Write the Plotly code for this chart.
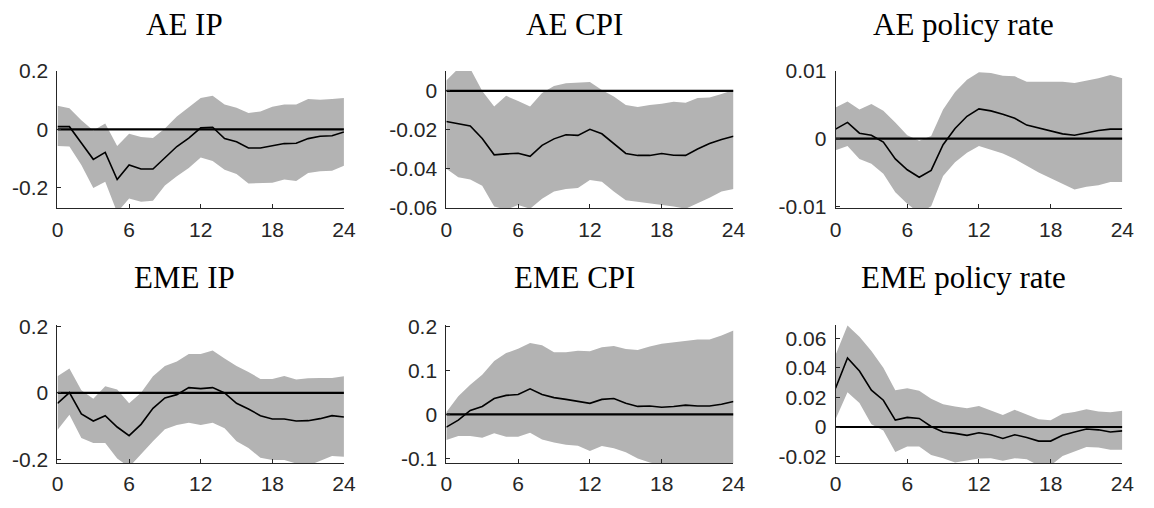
import plotly.graph_objects as go

# Impulse responses over a 24-month horizon: median and error bands
horizon = list(range(25))

ae_ip_mid = [0.009, 0.009, -0.047, -0.103, -0.079, -0.172, -0.122, -0.136, -0.136, -0.098,
             -0.059, -0.030, 0.005, 0.007, -0.032, -0.043, -0.064, -0.064, -0.057, -0.049,
             -0.048, -0.032, -0.024, -0.022, -0.009]
ae_ip_hi = [0.081, 0.072, 0.031, -0.004, 0.020, -0.057, -0.015, -0.026, -0.030, 0.003,
            0.044, 0.074, 0.107, 0.115, 0.085, 0.074, 0.056, 0.061, 0.077, 0.085,
            0.085, 0.104, 0.101, 0.104, 0.107]
ae_ip_lo = [-0.057, -0.059, -0.122, -0.201, -0.180, -0.285, -0.237, -0.248, -0.245, -0.193,
            -0.161, -0.133, -0.097, -0.109, -0.139, -0.153, -0.186, -0.185, -0.183, -0.172,
            -0.177, -0.150, -0.144, -0.142, -0.125]

ae_cpi_mid = [-0.0157, -0.0167, -0.0180, -0.0244, -0.0328, -0.0323, -0.0320, -0.0336, -0.0279, -0.0246,
              -0.0225, -0.0228, -0.0197, -0.0220, -0.0270, -0.0321, -0.0331, -0.0331, -0.0321, -0.0330,
              -0.0331, -0.0298, -0.0270, -0.0249, -0.0233]
ae_cpi_hi = [0.0054, 0.0115, 0.0115, 0.0000, -0.0080, -0.0025, -0.0052, -0.0080, -0.0011, 0.0025,
             0.0039, 0.0043, 0.0046, 0.0005, -0.0028, -0.0072, -0.0082, -0.0072, -0.0066, -0.0056,
             -0.0061, -0.0036, -0.0033, -0.0016, 0.0005]
ae_cpi_lo = [-0.0400, -0.0443, -0.0454, -0.0487, -0.0593, -0.0610, -0.0585, -0.0605, -0.0553, -0.0516,
             -0.0503, -0.0498, -0.0457, -0.0466, -0.0516, -0.0561, -0.0569, -0.0574, -0.0585, -0.0593,
             -0.0605, -0.0577, -0.0548, -0.0516, -0.0503]

ae_rate_mid = [0.0014, 0.0024, 0.0008, 0.0005, -0.0005, -0.0030, -0.0046, -0.0057, -0.0047, -0.0009,
               0.0015, 0.0033, 0.0044, 0.0041, 0.0036, 0.0030, 0.0020, 0.0016, 0.0011, 0.0007,
               0.0005, 0.0009, 0.0012, 0.0014, 0.0014]
ae_rate_hi = [0.0046, 0.0055, 0.0043, 0.0051, 0.0041, 0.0024, 0.0005, -0.0003, 0.0004, 0.0043,
              0.0069, 0.0087, 0.0098, 0.0097, 0.0093, 0.0092, 0.0084, 0.0084, 0.0084, 0.0084,
              0.0082, 0.0085, 0.0089, 0.0094, 0.0089]
ae_rate_lo = [-0.0017, -0.0011, -0.0030, -0.0037, -0.0052, -0.0079, -0.0096, -0.0110, -0.0100, -0.0055,
              -0.0035, -0.0021, -0.0011, -0.0016, -0.0022, -0.0030, -0.0040, -0.0050, -0.0059, -0.0067,
              -0.0075, -0.0071, -0.0069, -0.0064, -0.0064]

eme_ip_mid = [-0.031, 0.001, -0.063, -0.084, -0.068, -0.102, -0.128, -0.094, -0.046, -0.015,
              -0.005, 0.016, 0.013, 0.016, 0.000, -0.031, -0.048, -0.068, -0.078, -0.078,
              -0.084, -0.083, -0.077, -0.068, -0.072]
eme_ip_hi = [0.050, 0.073, 0.008, -0.017, 0.020, 0.010, -0.031, 0.001, 0.050, 0.081,
             0.094, 0.117, 0.117, 0.127, 0.103, 0.081, 0.063, 0.042, 0.042, 0.051,
             0.040, 0.044, 0.045, 0.045, 0.050]
eme_ip_lo = [-0.111, -0.065, -0.135, -0.150, -0.150, -0.196, -0.222, -0.182, -0.145, -0.109,
             -0.096, -0.089, -0.096, -0.089, -0.106, -0.145, -0.165, -0.194, -0.201, -0.201,
             -0.211, -0.218, -0.203, -0.189, -0.191]

eme_cpi_mid = [-0.029, -0.013, 0.009, 0.018, 0.036, 0.043, 0.045, 0.058, 0.045, 0.038,
               0.034, 0.029, 0.025, 0.034, 0.036, 0.025, 0.018, 0.019, 0.016, 0.018,
               0.021, 0.019, 0.019, 0.023, 0.029]
eme_cpi_hi = [0.005, 0.041, 0.067, 0.090, 0.121, 0.139, 0.149, 0.162, 0.157, 0.141,
              0.141, 0.144, 0.143, 0.152, 0.155, 0.148, 0.146, 0.154, 0.160, 0.163,
              0.166, 0.170, 0.170, 0.179, 0.190]
eme_cpi_lo = [-0.058, -0.049, -0.049, -0.053, -0.043, -0.051, -0.051, -0.042, -0.057, -0.064,
              -0.069, -0.071, -0.083, -0.072, -0.077, -0.086, -0.100, -0.109, -0.115, -0.113,
              -0.113, -0.111, -0.115, -0.115, -0.115]

eme_rate_mid = [0.0262, 0.0467, 0.0378, 0.0249, 0.0181, 0.0047, 0.0065, 0.0058, 0.0004, -0.0034,
                -0.0043, -0.0056, -0.0039, -0.0052, -0.0077, -0.0052, -0.0071, -0.0095, -0.0095, -0.0056,
                -0.0034, -0.0013, -0.0019, -0.0034, -0.0026]
eme_rate_hi = [0.0486, 0.0686, 0.0610, 0.0514, 0.0400, 0.0249, 0.0262, 0.0245, 0.0191, 0.0153,
               0.0138, 0.0127, 0.0142, 0.0110, 0.0082, 0.0116, 0.0084, 0.0052, 0.0045, 0.0090,
               0.0101, 0.0120, 0.0105, 0.0099, 0.0110]
eme_rate_lo = [0.0052, 0.0234, 0.0163, 0.0019, -0.0024, -0.0168, -0.0131, -0.0131, -0.0189, -0.0211,
               -0.0239, -0.0228, -0.0213, -0.0211, -0.0228, -0.0211, -0.0217, -0.0260, -0.0260, -0.0196,
               -0.0163, -0.0135, -0.0138, -0.0153, -0.0153]

titles = ["AE IP", "AE CPI", "AE policy rate", "EME IP", "EME CPI", "EME policy rate"]
mids = [ae_ip_mid, ae_cpi_mid, ae_rate_mid, eme_ip_mid, eme_cpi_mid, eme_rate_mid]
his = [ae_ip_hi, ae_cpi_hi, ae_rate_hi, eme_ip_hi, eme_cpi_hi, eme_rate_hi]
los = [ae_ip_lo, ae_cpi_lo, ae_rate_lo, eme_ip_lo, eme_cpi_lo, eme_rate_lo]
y_ticks = [[-0.2, 0, 0.2], [-0.06, -0.04, -0.02, 0], [-0.01, 0, 0.01],
           [-0.2, 0, 0.2], [-0.1, 0, 0.1, 0.2], [-0.02, 0, 0.02, 0.04, 0.06]]
y_ranges = [[-0.271, 0.2], [-0.0603, 0.0103], [-0.0103, 0.01],
            [-0.2107, 0.204], [-0.111, 0.203], [-0.0245, 0.069]]
x_ticks = [0, 6, 12, 18, 24]

W, H = 1154, 508
col_px = [(52.3, 343.3), (447.3, 739.0), (842.7, 1134.0)]
row_px = [(61.7, 205.7), (327.7, 472.7)]
title_px_y = [13, 278]

band_color = "#b3b3b3"
axis_color = "#262626"

fig = go.Figure()
annotations = []
layout_axes = {}

for i in range(6):
    r, c = divmod(i, 3)
    n = i + 1
    xa = "x" if n == 1 else f"x{n}"
    ya = "y" if n == 1 else f"y{n}"

    # shaded error band
    fig.add_trace(go.Scatter(
        x=horizon + horizon[::-1], y=his[i] + los[i][::-1],
        fill="toself", fillcolor=band_color, line=dict(width=0),
        mode="lines", hoverinfo="skip", showlegend=False,
        xaxis=xa, yaxis=ya))
    # zero reference line
    fig.add_trace(go.Scatter(
        x=[horizon[0], horizon[-1]], y=[0, 0], mode="lines",
        line=dict(color="black", width=2.2), showlegend=False,
        xaxis=xa, yaxis=ya))
    # median response
    fig.add_trace(go.Scatter(
        x=horizon, y=mids[i], mode="lines",
        line=dict(color="black", width=1.6), showlegend=False,
        xaxis=xa, yaxis=ya))

    x0, x1 = col_px[c]
    ytop, ybot = row_px[r]
    xd = [x0 / W, x1 / W]
    yd = [1 - ybot / H, 1 - ytop / H]

    tick_font = dict(family="Liberation Sans, Arial, sans-serif", size=21, color=axis_color)
    layout_axes["xaxis" if n == 1 else f"xaxis{n}"] = dict(
        domain=xd, range=[0, 24], anchor=ya, tickvals=x_ticks,
        ticktext=[str(v) for v in x_ticks], ticks="inside", ticklen=4,
        tickcolor=axis_color, showline=True, linecolor=axis_color, linewidth=1,
        showgrid=False, zeroline=False, tickfont=tick_font, ticklabelstandoff=2)
    layout_axes["yaxis" if n == 1 else f"yaxis{n}"] = dict(
        domain=yd, range=y_ranges[i], anchor=xa, tickvals=y_ticks[i],
        ticktext=[f"{v:g}" for v in y_ticks[i]], ticks="inside", ticklen=4,
        tickcolor=axis_color, showline=True, linecolor=axis_color, linewidth=1,
        showgrid=False, zeroline=False, tickfont=tick_font, ticklabelstandoff=4)

    annotations.append(dict(
        text=titles[i], xref="paper", yref="paper",
        x=((x0 + x1) / 2 - 16) / W, y=1 - title_px_y[r] / H,
        xanchor="center", yanchor="middle", showarrow=False,
        font=dict(family="Liberation Serif, Times New Roman, serif", size=31, color="black")))

fig.update_layout(
    width=W, height=H, margin=dict(l=0, r=0, t=0, b=0),
    paper_bgcolor="white", plot_bgcolor="white",
    showlegend=False, annotations=annotations, **layout_axes)

fig.write_html("out.html")
